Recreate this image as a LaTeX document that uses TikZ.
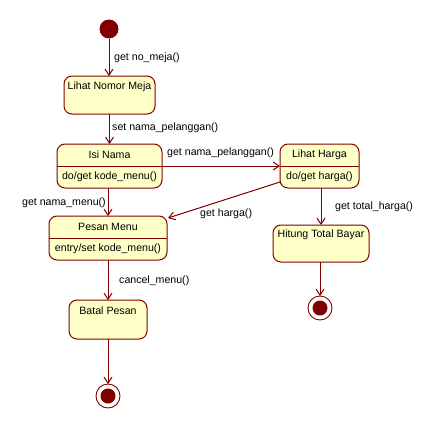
\documentclass[tikz,border=0pt]{standalone}
\usepackage{fontspec}
\setmainfont{Liberation Sans}
\usetikzlibrary{arrows.meta,calc}
\definecolor{umlred}{RGB}{128,0,0}
\definecolor{umlfill}{RGB}{255,255,200}
\begin{document}
\begin{tikzpicture}[x=1pt,y=-1pt,
  state/.style={draw=umlred,fill=umlfill,rounded corners=8pt,line width=1pt,inner sep=0pt,outer sep=0pt},
  txt/.style={font=\fontsize{10.6}{12}\selectfont,inner sep=0pt,text=black},
  trans/.style={draw=umlred,line width=1pt,-{Straight Barb[length=6pt,width=8pt]}},
  initstate/.style={circle,fill=umlred,minimum size=19pt,inner sep=0pt,outer sep=0pt},
  finalstate/.style={circle,draw=umlred,fill=white,line width=0.9pt,minimum size=24pt,inner sep=0pt,outer sep=0pt,
     path picture={\fill[umlred] (path picture bounding box.center) circle (7.5pt);}},
  divider/.style={draw=umlred,line width=1pt}
]
\useasboundingbox (0,0) rectangle (437,429);

% states
\node[initstate] (start) at (109,29) {};
\node[state,minimum width=91pt,minimum height=38pt] (lnm) at (109.5,95) {};
\node[txt] (lnmT) at (109.5,87) {Lihat Nomor Meja};

\node[state,minimum width=105pt,minimum height=44pt] (isi) at (109.5,166) {};
\draw[divider] (isi.west) -- (isi.east);
\node[txt] (isiT) at (109.5,155) {Isi Nama};
\node[txt] (isiD) at (109.5,177) {do/get kode\_menu()};

\node[state,minimum width=79pt,minimum height=44pt] (lh) at (319.5,166) {};
\draw[divider] (lh.west) -- (lh.east);
\node[txt] (lhT) at (319.5,155) {Lihat Harga};
\node[txt] (lhD) at (319.5,177) {do/get harga()};

\node[state,minimum width=96pt,minimum height=37pt] (htb) at (321,243.5) {};
\node[txt] (htbT) at (321,235) {Hitung Total Bayar};

\node[state,minimum width=118pt,minimum height=44pt] (pm) at (108,238) {};
\draw[divider] (pm.west) -- (pm.east);
\node[txt] (pmT) at (108,227) {Pesan Menu};
\node[txt] (pmD) at (108,249) {entry/set kode\_menu()};

\node[state,minimum width=78pt,minimum height=39pt] (bp) at (108,319.5) {};
\node[txt] (bpT) at (108,311) {Batal Pesan};

\node[finalstate] (end1) at (320,308) {};
\node[finalstate] (end2) at (108,396) {};

% transitions
\draw[trans] (start) -- (start |- lnm.north);
\draw[trans] (lnm) -- (lnm.south |- isi.north) ;
\draw[trans] (isi.east) -- (lh.west);
\draw[trans] (pm.north |- isi.south) -- (pm.north);
\draw[trans] ($(lh.west)+(0,16)$) -- ($(pm.north east)+(1,2)$);
\draw[trans] (htb.north |- lh.south) -- (htb.north);
\draw[trans] (htb.south -| end1) -- (end1.north);
\draw[trans] (pm.south) -- (bp.north);
\draw[trans] (bp.south) -- (end2.north);

% labels
\node[txt,anchor=west] (l1) at (114,58) {get no\_meja()};
\node[txt,anchor=west] (l2) at (112,128) {set nama\_pelanggan()};
\node[txt,anchor=west] (l3) at (167,153) {get nama\_pelanggan()};
\node[txt,anchor=east] (l4) at (106,203) {get nama\_menu()};
\node[txt,anchor=west] (l5) at (200,214) {get harga()};
\node[txt,anchor=west] (l6) at (335,207) {get total\_harga()};
\node[txt,anchor=west] (l7) at (119,281) {cancel\_menu()};
\end{tikzpicture}
\end{document}
